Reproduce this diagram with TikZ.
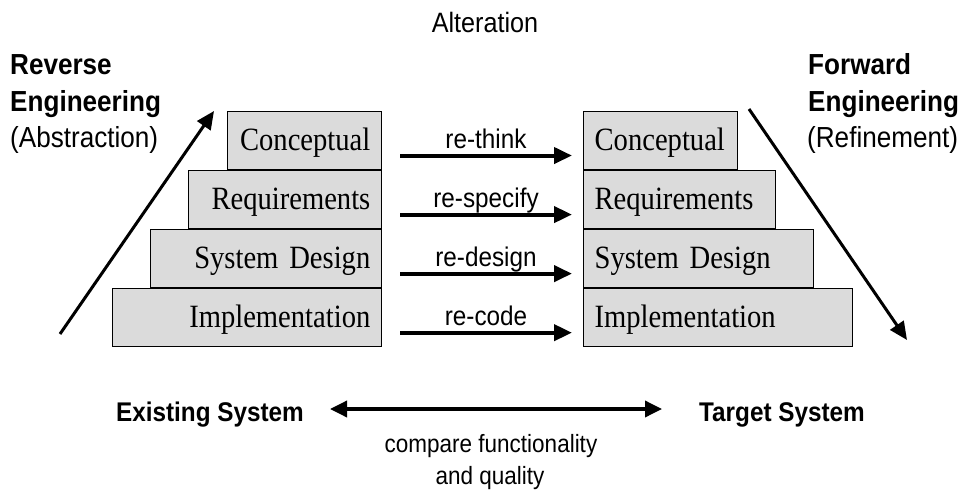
\documentclass[tikz,border=0pt]{standalone}
\usepackage{fontspec}
\setmainfont{Liberation Sans}[FakeStretch=0.9]
\newfontfamily\boxfont{Liberation Serif}[FakeStretch=0.88, WordSpace=0.6]
\usepackage{xcolor}
\usetikzlibrary{positioning,arrows.meta}
\definecolor{boxgray}{gray}{0.86}

\tikzset{
  box/.style={draw, line width=1.3pt, fill=boxgray, minimum height=57.75pt,
    inner xsep=11pt, inner ysep=0pt, text height=27pt, text depth=7pt,
    font=\boxfont\fontsize{32.5}{34}\selectfont},
  lbox/.style={box, anchor=north east, text width=#1, align=right},
  rbox/.style={box, anchor=north west, text width=#1, align=left},
  alter/.style={line width=4pt, -{Triangle[length=18pt,width=16pt]}},
  dir/.style={line width=3pt, -{Triangle[length=18pt,width=16pt]}},
  both/.style={line width=3.5pt, {Triangle[length=17pt,width=16pt]}-{Triangle[length=17pt,width=16pt]}},
  lbl/.style={anchor=base, inner sep=0pt, font=\fontsize{27}{30}\selectfont},
  side/.style={anchor=base west, inner sep=0pt, font=\fontsize{29}{30}\selectfont},
  sidebold/.style={side, font=\bfseries\fontsize{29}{30}\selectfont},
  sys/.style={anchor=base, inner sep=0pt, font=\bfseries\fontsize{27}{30}\selectfont},
  note/.style={anchor=base, inner sep=0pt, font=\fontsize{25}{30}\selectfont}
}

\begin{document}
\begin{tikzpicture}[x=1pt, y=-1pt]
    \useasboundingbox (0,0) rectangle (959,495);

    % Title
    \node[lbl, font=\fontsize{28}{30}\selectfont] (alt) at (485,33) {Alteration};

    % Existing system (left stairs)
    \node[lbox=132pt] (lconc) at (382,111) {Conceptual};
    \node[lbox=171pt] (lreq) at (lconc.south east) {Requirements};
    \node[lbox=209pt] (lsd) at (lreq.south east) {System Design};
    \node[lbox=247pt] (limp) at (lsd.south east) {Implementation};

    % Target system (right stairs)
    \node[rbox=132pt] (rconc) at (583,111) {Conceptual};
    \node[rbox=170pt] (rreq) at (rconc.south west) {Requirements};
    \node[rbox=208pt] (rsd) at (rreq.south west) {System Design};
    \node[rbox=247pt] (rimp) at (rsd.south west) {Implementation};

    % Alteration arrows
    \draw[alter] ([xshift=18pt,yshift=-15pt]lconc.east) -- ([xshift=-11pt,yshift=-15pt]rconc.west)
        node[lbl, midway, yshift=7pt] {re-think};
    \draw[alter] ([xshift=18pt,yshift=-15pt]lreq.east) -- ([xshift=-11pt,yshift=-15pt]rreq.west)
        node[lbl, midway, yshift=7pt] {re-specify};
    \draw[alter] ([xshift=18pt,yshift=-15pt]lsd.east) -- ([xshift=-11pt,yshift=-15pt]rsd.west)
        node[lbl, midway, yshift=7pt] {re-design};
    \draw[alter] ([xshift=18pt,yshift=-15pt]limp.east) -- ([xshift=-11pt,yshift=-15pt]rimp.west)
        node[lbl, midway, yshift=7pt] {re-code};

    % Reverse engineering
    \node[sidebold] (rev1) at (10,75) {Reverse};
    \node[sidebold] (rev2) at (10,111) {Engineering};
    \node[side] (rev3) at (10,147) {(Abstraction)};
    \coordinate (revS) at (60,334);
    \coordinate (revE) at (214,111);
    \draw[dir] (revS) -- (revE);

    % Forward engineering
    \node[sidebold] (fwd1) at (808,75) {Forward};
    \node[sidebold] (fwd2) at (808,111) {Engineering};
    \node[side] (fwd3) at (807,147) {(Refinement)};
    \coordinate (fwdS) at (749,109);
    \coordinate (fwdE) at (907,340);
    \draw[dir] (fwdS) -- (fwdE);

    % Comparison
    \node[sys] (exist) at (210,421) {Existing System};
    \node[sys] (target) at (782,421) {Target System};
    \coordinate (cmpL) at (330,409);
    \coordinate (cmpR) at (662,409);
    \draw[both] (cmpL) -- (cmpR);
    \node[note] (cmp1) at (491,452) {compare functionality};
    \node[note] (cmp2) at (490,484) {and quality};
\end{tikzpicture}
\end{document}
